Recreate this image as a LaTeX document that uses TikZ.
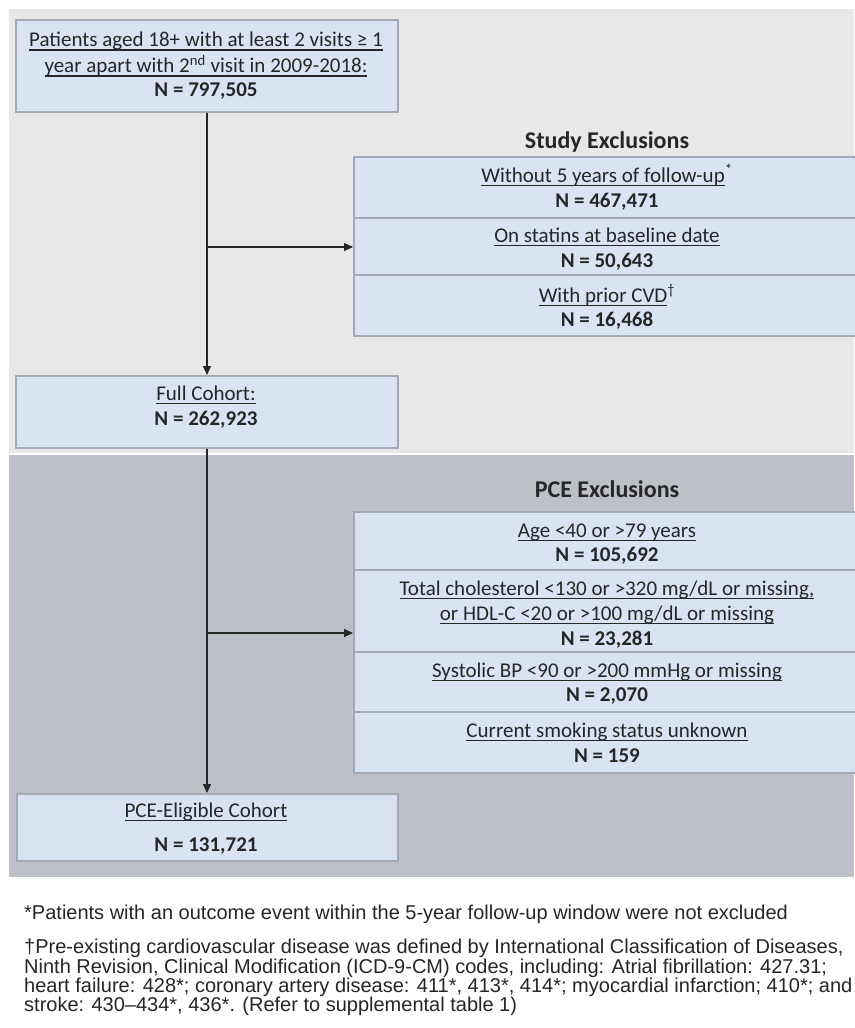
\documentclass[tikz,border=0pt]{standalone}
\usepackage{fontspec}
\setmainfont{Carlito}
\newfontfamily\arialf{Liberation Sans}
\newcommand{\myul}[1]{\setbox0=\hbox{#1}\rlap{\rule[-3.8pt]{\wd0}{1.2pt}}\box0}
\usetikzlibrary{arrows.meta}
\definecolor{lightbg}{HTML}{E8E8E8}
\definecolor{darkbg}{HTML}{BDC0C6}
\definecolor{boxfill}{HTML}{DAE3F3}
\definecolor{boxline}{HTML}{A4AAB4}
\definecolor{inkc}{HTML}{262626}
\begin{document}
\begin{tikzpicture}[x=1pt,y=-1pt,
  box/.style={draw=boxline, line width=1.5pt, fill=boxfill, inner sep=0pt, anchor=north west},
  lbl/.style={anchor=base, inner sep=0pt, text=inkc, font=\fontsize{21}{25}\selectfont},
  nlbl/.style={anchor=base, inner sep=0pt, text=inkc, font=\fontsize{21}{25}\selectfont\bfseries},
  hdr/.style={anchor=base, inner sep=0pt, text=inkc, font=\fontsize{24}{28}\selectfont\bfseries},
  conn/.style={draw=inkc, line width=1.1pt},
  arr/.style={conn, -{Triangle[length=9pt,width=8pt]}},
  foot/.style={anchor=base west, inner sep=0pt, text=inkc, font=\arialf\fontsize{20}{20}\selectfont}]
\useasboundingbox (0,0) rectangle (854,1028);
\fill[white] (0,0) rectangle (854,1028);
\fill[lightbg] (9,9) rectangle (854,453);
\fill[darkbg] (9,455) rectangle (854,877);

% left column boxes
\node[box, minimum width=382pt, minimum height=92pt] (top) at (15,19) {};
\node[box, minimum width=382pt, minimum height=72pt] (full) at (15,375) {};
\node[box, minimum width=381pt, minimum height=67pt] (elig) at (16,793) {};

% study exclusions
\node[box, minimum width=510pt, minimum height=61pt] (ex1) at (353,156) {};
\node[box, minimum width=510pt, minimum height=57pt] (ex2) at (353,217) {};
\node[box, minimum width=510pt, minimum height=61pt] (ex3) at (353,274) {};

% PCE exclusions
\node[box, minimum width=510pt, minimum height=58pt] (pce1) at (353,511) {};
\node[box, minimum width=510pt, minimum height=82pt] (pce2) at (353,569) {};
\node[box, minimum width=510pt, minimum height=60pt] (pce3) at (353,651) {};
\node[box, minimum width=510pt, minimum height=61pt] (pce4) at (353,711) {};

% texts left
\node[lbl] (t1) at (206,46.7) {\myul{Patients aged 18+ with at least 2 visits ≥ 1}};
\node[lbl] (t2) at (206,72.7) {\myul{year apart with 2\textsuperscript{nd} visit in 2009-2018:}};
\node[nlbl] (t3) at (206,96) {N = 797,505};

\node[lbl] (f1) at (206,400) {\myul{Full Cohort:}};
\node[nlbl] (f2) at (206,425) {N = 262,923};

\node[lbl] (e1) at (206,817) {\myul{PCE-Eligible Cohort}};
\node[nlbl] (e2) at (206,851) {N = 131,721};

% texts study exclusions
\node[hdr] (sh) at (607,148) {Study Exclusions};
\node[lbl] (s1a) at (607,182) {\myul{Without 5 years of follow-up}\textsuperscript{*}};
\node[nlbl] (s1b) at (607,207) {N = 467,471};
\node[lbl] (s2a) at (607,242) {\myul{On statins at baseline date}};
\node[nlbl] (s2b) at (607,267) {N = 50,643};
\node[lbl] (s3a) at (607,302) {\myul{With prior CVD}\textsuperscript{†}};
\node[nlbl] (s3b) at (607,326) {N = 16,468};

% texts PCE exclusions
\node[hdr] (ph) at (607,497) {PCE Exclusions};
\node[lbl] (p1a) at (607,537) {\myul{Age <40 or >79 years}};
\node[nlbl] (p1b) at (607,561) {N = 105,692};
\node[lbl] (p2a) at (607,595) {\myul{Total cholesterol <130 or >320 mg/dL or missing,}};
\node[lbl] (p2b) at (607,620) {\myul{or HDL-C <20 or >100 mg/dL or missing}};
\node[nlbl] (p2c) at (607,645) {N = 23,281};
\node[lbl] (p3a) at (607,677) {\myul{Systolic BP <90 or >200 mmHg or missing}};
\node[nlbl] (p3b) at (607,701) {N = 2,070};
\node[lbl] (p4a) at (607,737) {\myul{Current smoking status unknown}};
\node[nlbl] (p4b) at (607,762) {N = 159};

% connectors
\coordinate (j1) at (207,247);
\coordinate (j2) at (207,633);
\draw[arr] (top.south -| j1) -- (full.north -| j1);
\draw[arr] (j1) -- (j1 -| ex2.west);
\draw[arr] (full.south -| j2) -- (elig.north -| j2);
\draw[arr] (j2) -- (j2 -| pce2.west);

% footnotes
\node[foot] (n1) at (24,919) {*Patients with an outcome event within the 5-year follow-up window were not excluded};
\node[foot] (n2) at (24,953) {†Pre-existing cardiovascular disease was defined by International Classification of Diseases,};
\node[foot] (n3) at (24,973) {Ninth Revision, Clinical Modification (ICD-9-CM) codes, including: Atrial fibrillation: 427.31;};
\node[foot] (n4) at (24,992) {heart failure: 428*; coronary artery disease: 411*, 413*, 414*; myocardial infarction; 410*; and};
\node[foot] (n5) at (24,1011) {stroke: 430–434*, 436*. (Refer to supplemental table 1)};
\end{tikzpicture}
\end{document}
